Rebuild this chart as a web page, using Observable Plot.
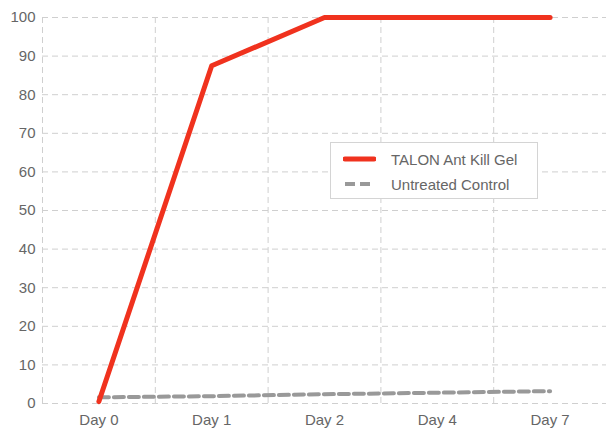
<!DOCTYPE html>
<html>
<head>
<meta charset="utf-8">
<script src="https://cdn.jsdelivr.net/npm/d3@7"></script>
<script src="https://cdn.jsdelivr.net/npm/@observablehq/plot@0.6"></script>
<style>
  html, body { margin: 0; padding: 0; background: #fff; }
  #wrap { position: relative; width: 606px; height: 430px; font-family: "Liberation Sans", Arial, Helvetica, sans-serif; }
  .legend { position: absolute; left: 330px; top: 142px; width: 208px; height: 57px; border: 1px solid #d4d4d4; background: #fff; box-sizing: border-box; }
  .legend .row { position: absolute; left: 12px; height: 20px; display: flex; align-items: center; font-size: 15px; color: #666; white-space: nowrap; }
  .legend svg { margin-right: 15px; }
</style>
</head>
<body>
<div id="wrap"></div>
<script>
const days = ["Day 0", "Day 1", "Day 2", "Day 4", "Day 7"];
const talon = [0.5, 87.5, 100, 100, 100];
const control = [1.6, 1.9, 2.4, 2.8, 3.2];
const yTicks = [0, 10, 20, 30, 40, 50, 60, 70, 80, 90, 100];
const seriesNames = ["TALON Ant Kill Gel", "Untreated Control"];
const colors = ["#f0321e", "#999999"];

const idx = days.map((d, i) => i);
const talonData = idx.map(i => ({x: i, y: talon[i]}));
const controlData = idx.map(i => ({x: i, y: control[i]}));
const gridX = idx.map(i => i - 0.5);

const chart = Plot.plot({
  width: 606,
  height: 430,
  marginLeft: 42,
  marginRight: 0,
  marginTop: 17,
  marginBottom: 27,
  style: {fontFamily: '"Liberation Sans", Arial, Helvetica, sans-serif', fontSize: "15px", color: "#666", background: "#fff"},
  x: {domain: [-0.5, days.length - 0.5], label: null},
  y: {domain: [0, 100], label: null},
  marks: [
    Plot.ruleY(yTicks, {stroke: "#cfcfcf", strokeDasharray: "6,4", strokeWidth: 1}),
    Plot.ruleX(gridX, {stroke: "#cfcfcf", strokeDasharray: "6,4", strokeWidth: 1}),
    Plot.line(controlData, {x: "x", y: "y", stroke: colors[1], strokeWidth: 4, strokeDasharray: "10,5"}),
    Plot.line(talonData, {x: "x", y: "y", stroke: colors[0], strokeWidth: 5, strokeLinecap: "round"}),
    Plot.axisX({ticks: idx, tickFormat: i => days[i], tickSize: 0, tickPadding: 11, fill: "#666"}),
    Plot.axisY({ticks: yTicks, tickSize: 0, tickPadding: 7, fill: "#666"})
  ]
});

const wrap = document.getElementById("wrap");
wrap.appendChild(chart);

const legend = document.createElement("div");
legend.className = "legend";
seriesNames.forEach((name, i) => {
  const row = document.createElement("div");
  row.className = "row";
  row.style.top = (6 + i * 25) + "px";
  const dash = i === 1 ? 'stroke-dasharray="10,5"' : '';
  const w = i === 0 ? 5 : 4;
  row.innerHTML = `<svg width="33" height="10"><line x1="2" y1="5" x2="31" y2="5" stroke="${colors[i]}" stroke-width="${w}" ${dash} stroke-linecap="${i===0?'round':'butt'}"/></svg><span>${name}</span>`;
  legend.appendChild(row);
});
wrap.appendChild(legend);
</script>
</body>
</html>
